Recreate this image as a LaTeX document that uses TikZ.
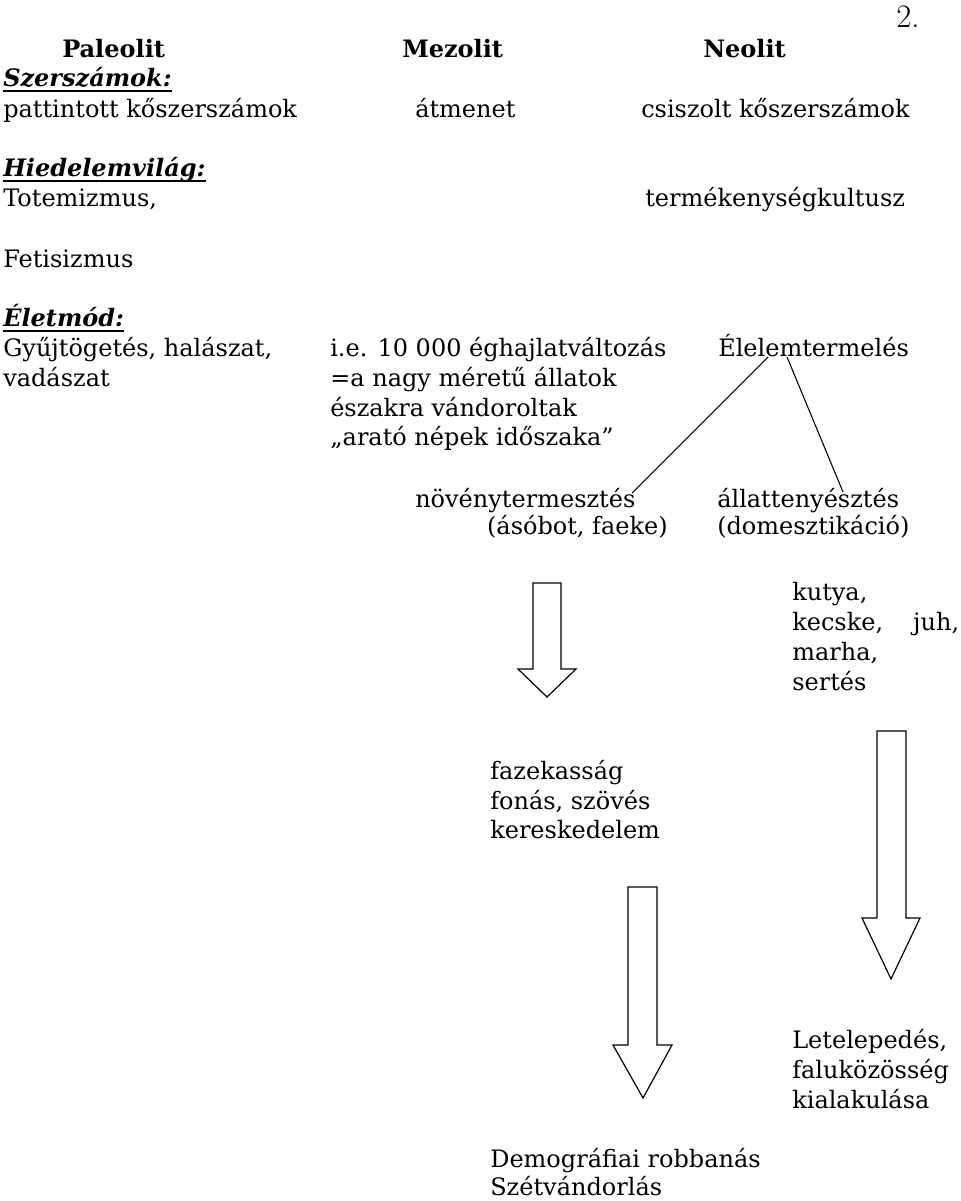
\documentclass[tikz,border=0pt]{standalone}
\usepackage{fontspec}
\newfontfamily\bk{DejaVu Serif}
\usetikzlibrary{calc}
\tikzset{
  txt/.style={font=\bk\fontsize{18}{22}\selectfont, anchor=base west, inner sep=0pt},
  head/.style={font=\bk\bfseries\fontsize{18}{22}\selectfont, anchor=base west, inner sep=0pt},
  sect/.style={font=\bk\bfseries\itshape\fontsize{18}{22}\selectfont, anchor=base west, inner sep=0pt},
  uline/.style={draw=black, line width=1.1pt},
  blockarrow/.style={draw=black, fill=white, line width=0.9pt, line join=miter},
  tie/.style={draw=black, line width=0.8pt}
}
\begin{document}
\begin{tikzpicture}[x=0.75pt,y=-0.75pt]
\useasboundingbox (0,0) rectangle (960,1201);
% page number
\node[anchor=base west, inner sep=0pt, font=\fontsize{24.5}{28}\selectfont] (num) at (896,28) {2.};
% headings
\node[head] (paleo) at (62,58) {Paleolit};
\node[head] (mezo) at (402,58) {Mezolit};
\node[head] (neo) at (703,58) {Neolit};
% tools
\node[sect] (szersz) at (3,87) {Szerszámok:};
\draw[uline] ($(szersz.base west)+(0,4)$) -- ($(szersz.base east)+(0,4)$);
\node[txt] (patt) at (3,118) {pattintott kőszerszámok};
\node[txt] (atm) at (415,118) {átmenet};
\node[txt] (csisz) at (641,118) {csiszolt kőszerszámok};
% beliefs
\node[sect] (hied) at (3,177) {Hiedelemvilág:};
\draw[uline] ($(hied.base west)+(0,4)$) -- ($(hied.base east)+(0,4)$);
\node[txt] (totem) at (3,207) {Totemizmus,};
\node[txt] (term) at (645,207) {termékenységkultusz};
\node[txt] (fetis) at (3,268) {Fetisizmus};
% lifestyle
\node[sect] (elet) at (3,327) {Életmód:};
\draw[uline] ($(elet.base west)+(0,4)$) -- ($(elet.base east)+(0,4)$);
\node[txt] (gyujt1) at (3,357) {Gyűjtögetés, halászat,};
\node[txt] (gyujt2) at (3,387) {vadászat};
\node[txt] (ie1) at (330,357) {i.e. 10 000 éghajlatváltozás};
\node[txt] (ie2) at (330,387) {=a nagy méretű állatok};
\node[txt] (ie3) at (330,416) {északra vándoroltak};
\node[txt] (ie4) at (330,445) {„arató népek időszaka”};
\node[txt] (elelem) at (718,357) {Élelemtermelés};
\node[txt] (noveny) at (415,507) {növénytermesztés};
\node[txt, anchor=base east] (asobot) at (668,534) {(ásóbot, faeke)};
\node[txt] (allat) at (717,507) {állattenyésztés};
\node[txt] (domeszt) at (717,534) {(domesztikáció)};
% connectors
\coordinate (eL) at ($(elelem.base west)+(50,0)$);
\coordinate (eR) at ($(elelem.base west)+(69,0)$);
\coordinate (nEnd) at ($(noveny.base west)+(217,-14)$);
\coordinate (aEnd) at ($(allat.base west)+(126,-15)$);
\draw[tie] (eL) -- (nEnd);
\draw[tie] (eR) -- (aEnd);
% lower texts
\node[txt] (kutya1) at (792,600) {kutya,};
\node[txt] (kutya2) at (792,630) {kecske,\hspace{1.25em}juh,};
\node[txt] (kutya3) at (792,660) {marha,};
\node[txt] (kutya4) at (792,690) {sertés};
\node[txt] (faz1) at (490,779) {fazekasság};
\node[txt] (faz2) at (490,809) {fonás, szövés};
\node[txt] (faz3) at (490,838) {kereskedelem};
\node[txt] (let1) at (792,1048) {Letelepedés,};
\node[txt] (let2) at (792,1078) {faluközösség};
\node[txt] (let3) at (792,1108) {kialakulása};
\node[txt] (demo1) at (490,1167) {Demográfiai robbanás};
\node[txt] (demo2) at (490,1195) {Szétvándorlás};
% block arrows
\draw[blockarrow] (533,583) -- (561,583) -- (561,669) -- (576,669) -- (547,697) -- (518,669) -- (533,669) -- cycle;
\draw[blockarrow] (877,731) -- (906,731) -- (906,918) -- (920,918) -- (891,979) -- (862,918) -- (877,918) -- cycle;
\draw[blockarrow] (628,887) -- (657,887) -- (657,1045) -- (672,1045) -- (643,1098) -- (613,1045) -- (628,1045) -- cycle;
\end{tikzpicture}
\end{document}
